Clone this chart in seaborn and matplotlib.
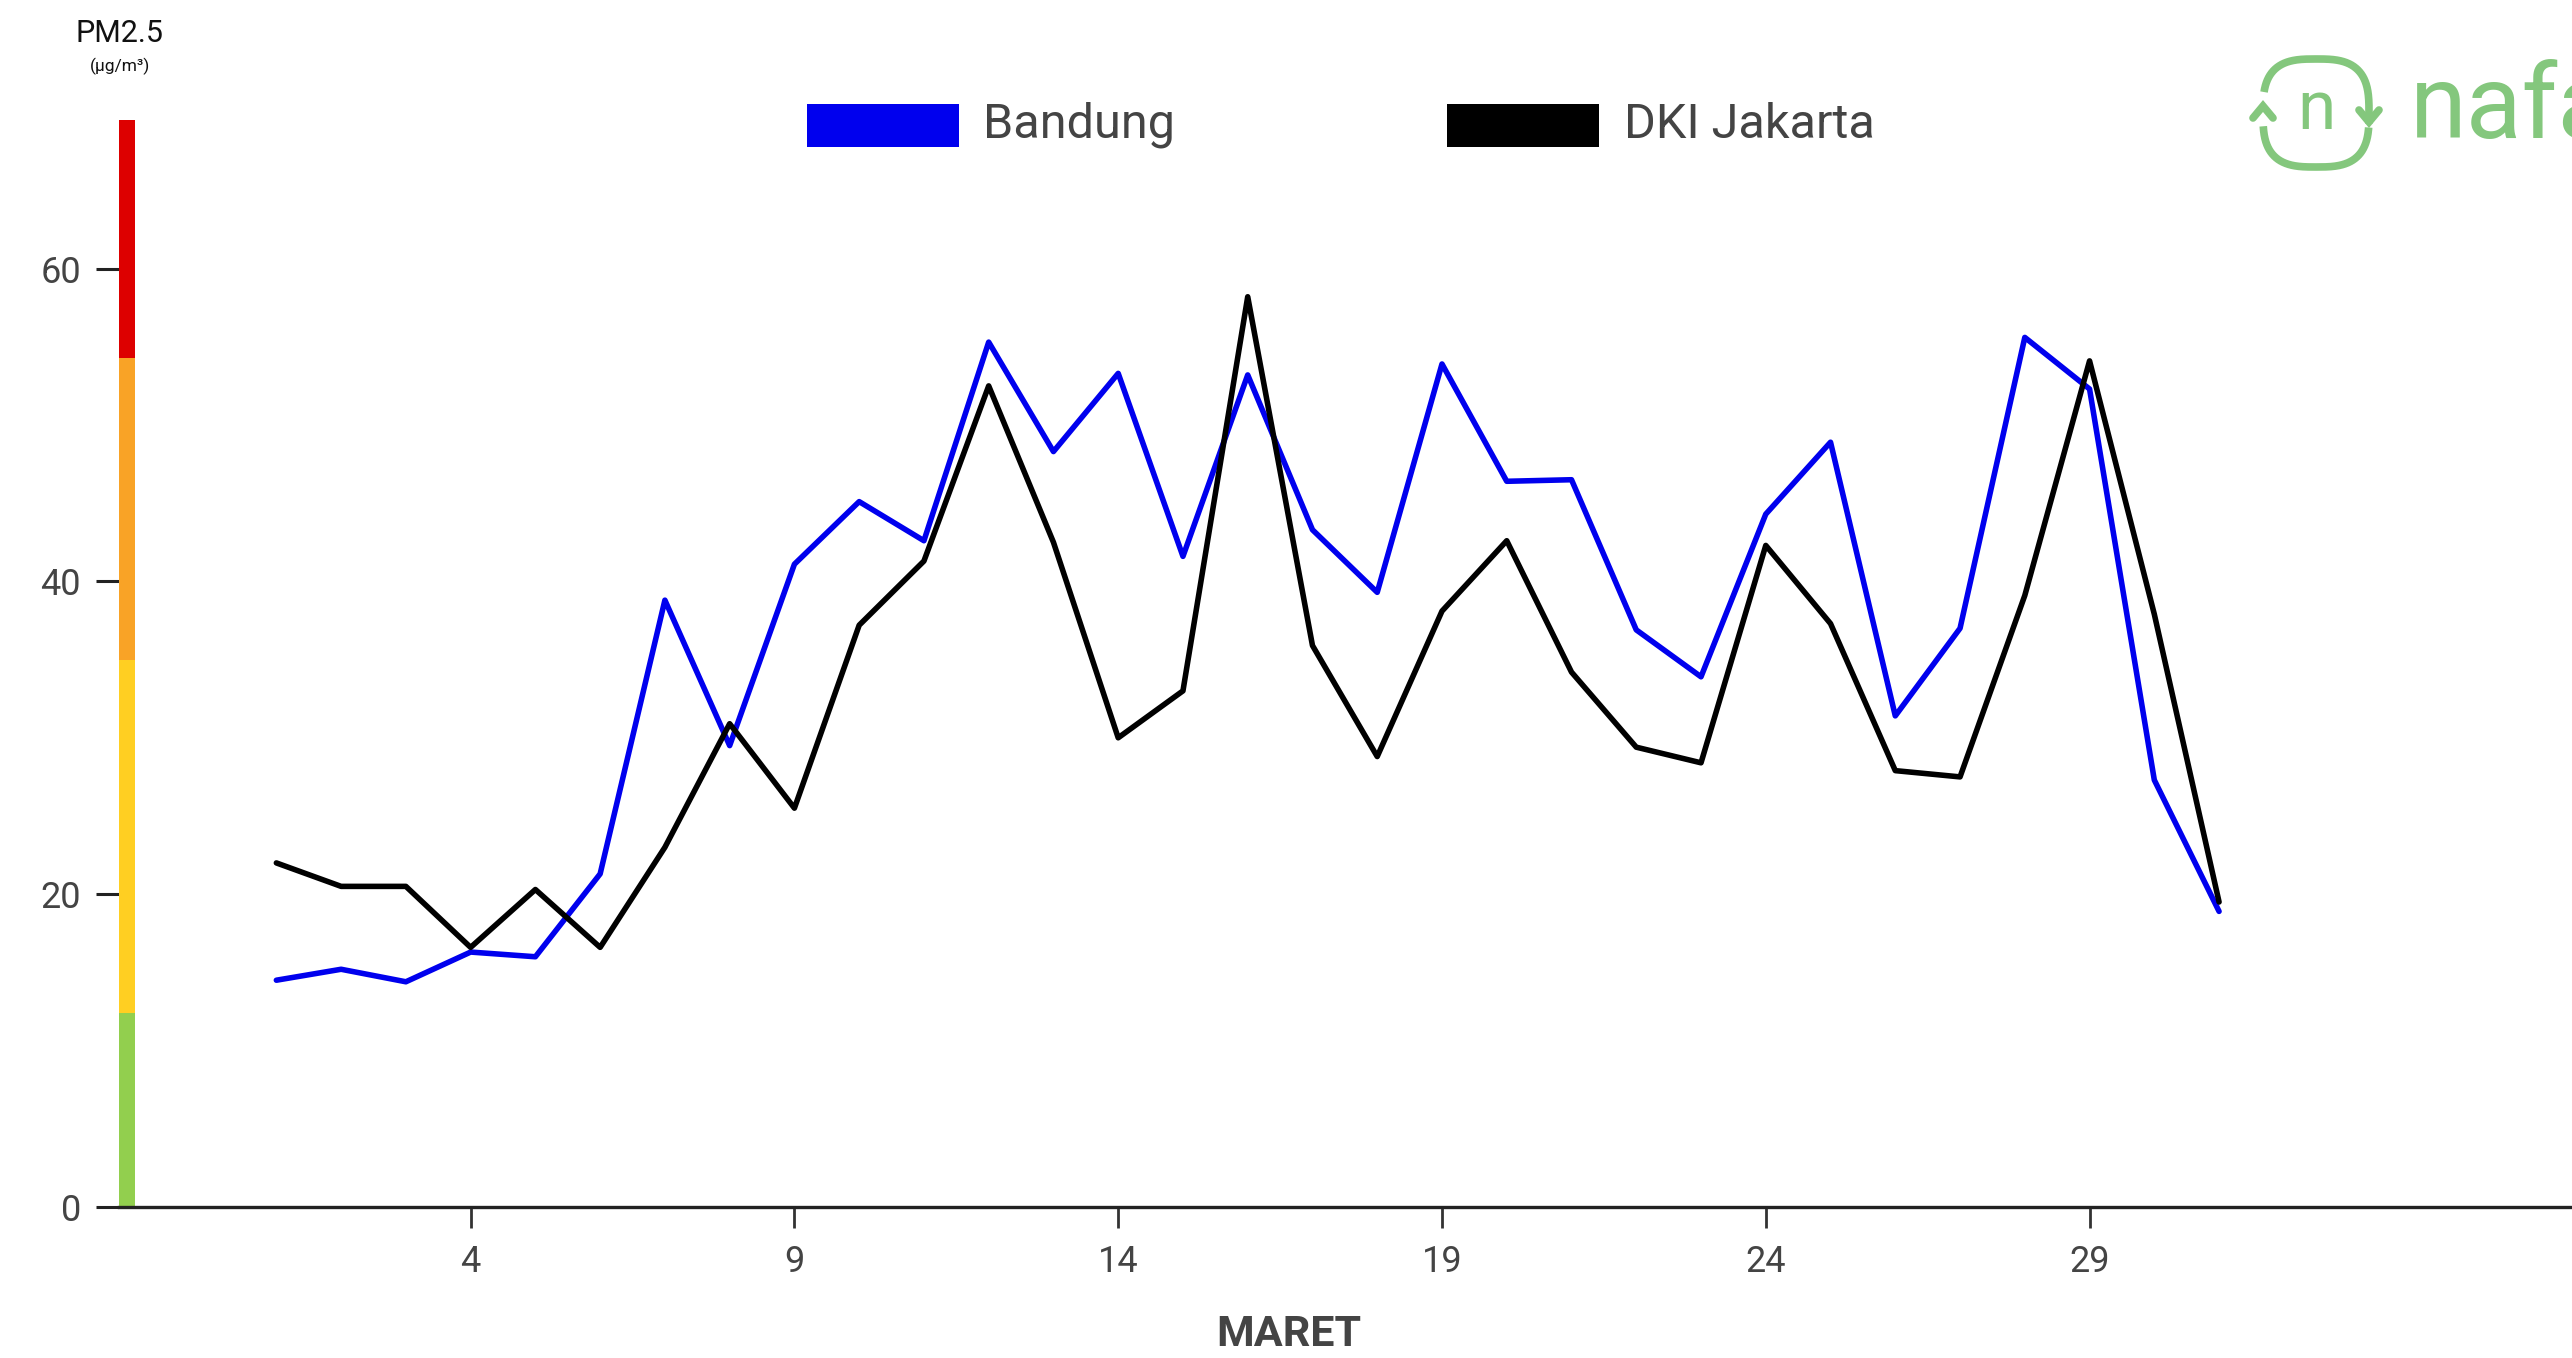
import numpy as np
import pandas as pd
import matplotlib
matplotlib.use("Agg")
import matplotlib.pyplot as plt
from matplotlib.patches import Rectangle
import matplotlib.transforms as mtransforms
import seaborn as sns

# ---- data ----
days = list(range(1, 32))
bandung = [14.5, 15.2, 14.4, 16.3, 16.0, 21.3, 38.8, 29.5, 41.1, 45.1, 42.6, 55.3, 48.3, 53.3, 41.6, 53.2,
           43.3, 39.3, 53.9, 46.4, 46.5, 36.9, 33.9, 44.3, 48.9, 31.4, 37.0, 55.6, 52.3, 27.3, 18.9]
jakarta = [22.0, 20.5, 20.5, 16.6, 20.3, 16.6, 23.0, 30.9, 25.5, 37.2, 41.3, 52.5, 42.5, 30.0, 33.0, 58.2,
           35.9, 28.8, 38.1, 42.6, 34.2, 29.4, 28.4, 42.3, 37.3, 27.9, 27.5, 39.1, 54.1, 37.9, 19.5]
series_names = ["Bandung", "DKI Jakarta"]
series_colors = ["#0000ee", "#000000"]
xtick_values = [4, 9, 14, 19, 24, 29]
ytick_values = [0, 20, 40, 60]
band_edges = [0, 12.4, 35.0, 54.3, 69.5]
band_colors = ["#92cf4e", "#ffcf22", "#f9a326", "#dd0000"]
x_label = "MARET"
y_label = "PM2.5"
y_unit = "(µg/m³)"
logo_text = "nafas"

df = pd.DataFrame({
    "day": days * 2,
    "value": bandung + jakarta,
    "kota": [series_names[0]] * len(days) + [series_names[1]] * len(days),
})

sns.set_theme(style="white")
plt.rcParams["font.family"] = ["Roboto", "DejaVu Sans"]

W, H = 2572, 1358
fig = plt.figure(figsize=(W / 100, H / 100), dpi=100)
ax_left, ax_bottom_px, ax_top_px = 119, 1207, 120
ax = fig.add_axes([ax_left / W, (H - ax_bottom_px) / H, (W - ax_left) / W, (ax_bottom_px - ax_top_px) / H])

sns.lineplot(data=df, x="day", y="value", hue="kota", hue_order=series_names,
             palette=dict(zip(series_names, series_colors)), linewidth=4.0, ax=ax,
             legend=False, zorder=3)

ax.set_xlim(-1.43, 36.45)
ax.set_ylim(band_edges[0], band_edges[-1])

# colored AQI bar along the y axis
trans = mtransforms.blended_transform_factory(ax.transAxes, ax.transData)
bar_w = 16 / (W - ax_left)
for lo, hi, c in zip(band_edges[:-1], band_edges[1:], band_colors):
    ax.add_patch(Rectangle((0, lo), bar_w, hi - lo, transform=trans, color=c,
                           clip_on=False, zorder=4, lw=0))

for s in ["top", "right", "left"]:
    ax.spines[s].set_visible(False)
ax.spines["bottom"].set_color("#222222")
ax.spines["bottom"].set_linewidth(2.4)
ax.spines["bottom"].set_zorder(5)

ax.set_xticks(xtick_values)
ax.set_xticklabels([str(v) for v in xtick_values])
ax.set_yticks(ytick_values)
ax.set_yticklabels([str(v) for v in ytick_values])
ax.tick_params(axis="x", direction="out", length=15, width=2.0, color="#333333",
               labelsize=26, labelcolor="#444444", pad=12, bottom=True)
ax.tick_params(axis="y", direction="out", length=16.5, width=2.2, color="#222222",
               labelsize=26, labelcolor="#444444", pad=11, left=True)
ax.set_xlabel("")
ax.set_ylabel("")
ax.grid(False)

# x axis title
fig.text(1289 / W, 1 - 1334 / H, x_label, ha="center", va="center", fontsize=31,
         fontweight="bold", color="#444444")
# y axis title
fig.text(120 / W, 1 - 34 / H, y_label, ha="center", va="center", fontsize=22, color="#111111")
fig.text(120 / W, 1 - 66 / H, y_unit, ha="center", va="center", fontsize=12.5, color="#111111")

# legend (custom placed)
for name, col, x0, tx in [(series_names[0], series_colors[0], 807, 983),
                          (series_names[1], series_colors[1], 1447, 1624)]:
    fig.patches.append(Rectangle((x0 / W, 1 - 147 / H), 152 / W, 43 / H, transform=fig.transFigure,
                                 color=col, lw=0))
    fig.text(tx / W, 1 - 125 / H, name, ha="left", va="center", fontsize=35, color="#444444")

# logo
green = "#84c77d"
lax = fig.add_axes([2240 / W, 1 - 180 / H, 150 / W, 140 / H])
lax.set_xlim(2240, 2390)
lax.set_ylim(180, 40)
lax.axis("off")
cx, cy, a, b, n = 2316, 113, 53, 54, 3.0
t = np.linspace(0, 2 * np.pi, 1441)
px = cx + a * np.sign(np.cos(t)) * np.abs(np.cos(t)) ** (2 / n)
py = cy - b * np.sign(np.sin(t)) * np.abs(np.sin(t)) ** (2 / n)
ang = np.degrees(t)
top = (ang >= 355) | (ang <= 166)
top_order = np.argsort((ang[top] + 10) % 360)
lax.plot(px[top][top_order], py[top][top_order], color=green, lw=5.5, solid_capstyle="butt")
bot = (ang >= 187) & (ang <= 352)
lax.plot(px[bot], py[bot], color=green, lw=5.5, solid_capstyle="butt")
# arrow heads
lax.plot([2253, 2263, 2273], [118, 106, 118], color=green, lw=5.5, solid_joinstyle="miter")
lax.plot([2359, 2369, 2379], [110, 122, 110], color=green, lw=5.5, solid_joinstyle="miter")
lax.text(2316, 110, "n", ha="center", va="center", fontsize=50, color=green)
fig.text(2410 / W, 1 - 138 / H, logo_text, ha="left", va="baseline", fontsize=74, color=green)

fig.savefig("out.png", dpi=100, facecolor="white")
